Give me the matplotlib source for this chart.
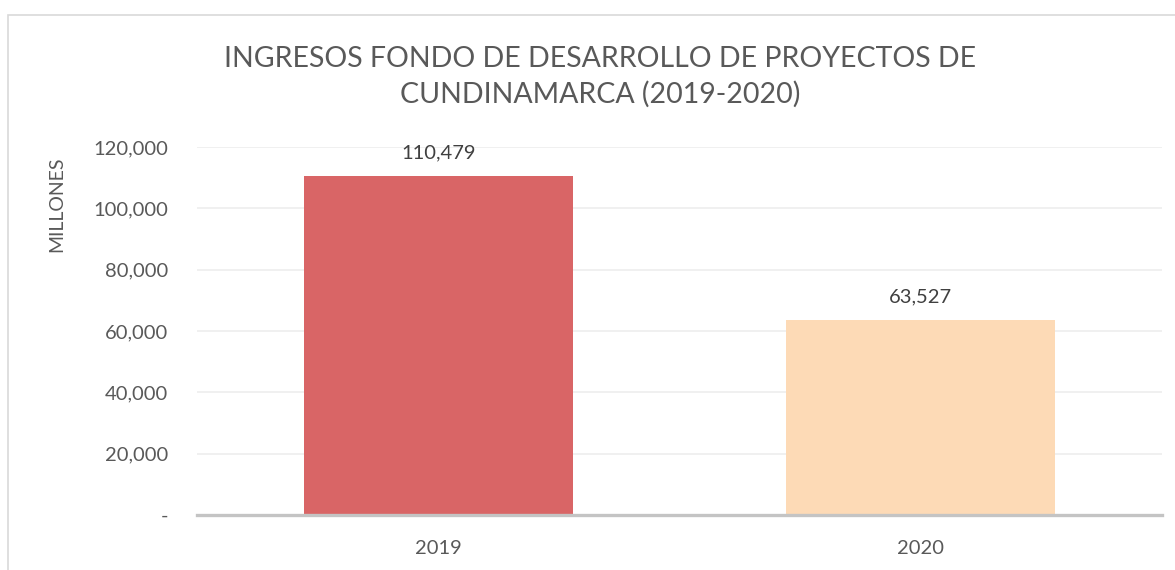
import matplotlib.pyplot as plt
from matplotlib.patches import Rectangle
from matplotlib.ticker import FuncFormatter

years = ["2019", "2020"]
ingresos = [110479, 63527]
bar_colors = ["#D96566", "#FDDAB6"]
yticks = [0, 20000, 40000, 60000, 80000, 100000, 120000]

plt.rcParams['font.family'] = ['Lato', 'DejaVu Sans']
txt = "#595959"

fig = plt.figure(figsize=(11.75, 5.70), dpi=100)
W, H = 1175, 570

# outer chart frame (cropped at right/bottom)
fig.patches.append(Rectangle((8 / W, -0.1), 1.2, 1 - 15 / H + 0.1,
                             transform=fig.transFigure, fill=False,
                             edgecolor="#D9D9D9", lw=1.2))

ax = fig.add_axes([197 / W, 1 - 515 / H, (1162 - 197) / W, (515 - 147) / H])
x = range(len(years))
bars = ax.bar(x, ingresos, width=0.557, color=bar_colors, zorder=2)

ax.set_xlim(-0.5, 1.5)
ax.set_ylim(0, 120000)
ax.set_yticks(yticks)
ax.yaxis.set_major_formatter(FuncFormatter(lambda v, p: "-" if v == 0 else f"{v:,.0f}"))
ax.set_xticks(list(x))
ax.set_xticklabels(years)
ax.tick_params(axis='both', length=0, labelsize=14.5, colors=txt)
ax.tick_params(axis='y', pad=21)
ax.tick_params(axis='x', pad=18)

ax.grid(axis='y', color="#EEEEEE", lw=1.2, zorder=0)
for s in ["top", "right", "left"]:
    ax.spines[s].set_visible(False)
ax.spines["bottom"].set_color("#C4C4C4")
ax.spines["bottom"].set_linewidth(2.4)
ax.spines["bottom"].set_zorder(3)

for b, v in zip(bars, ingresos):
    ax.annotate(f"{v:,}", (b.get_x() + b.get_width() / 2, v), xytext=(0, 11),
                textcoords="offset points", ha="center", va="bottom",
                fontsize=14.5, color="#404040")

fig.text(600 / W, 1 - 77 / H, "INGRESOS FONDO DE DESARROLLO DE PROYECTOS DE\nCUNDINAMARCA (2019-2020)",
         ha="center", va="center", fontsize=20.5, color=txt, linespacing=1.4)

fig.text(57 / W, 1 - 204 / H, "MILLONES", rotation=90, ha="center", va="center",
         fontsize=14, color=txt)

fig.savefig("out.png", dpi=100)
